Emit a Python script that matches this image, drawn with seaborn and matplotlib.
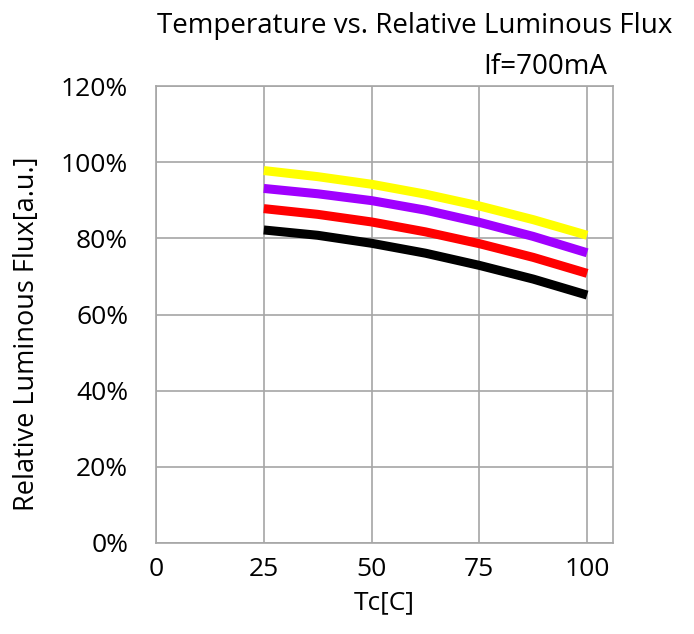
import matplotlib
matplotlib.use("Agg")
import matplotlib.pyplot as plt
import seaborn as sns
import pandas as pd

temps = [25, 37.5, 50, 62.5, 75, 87.5, 100]
yellow = [97.8, 96.2, 94.2, 91.6, 88.5, 84.9, 80.8]
purple = [93.1, 91.7, 89.9, 87.4, 84.2, 80.5, 76.2]
red = [87.8, 86.3, 84.3, 81.7, 78.6, 75.0, 70.8]
black = [82.2, 80.8, 78.7, 76.1, 72.9, 69.3, 65.1]
series_names = ["Yellow", "Purple", "Red", "Black"]
series_colors = ["#ffff00", "#a000ff", "#ff0000", "#000000"]
x_ticks = [0, 25, 50, 75, 100]
y_ticks = [0, 20, 40, 60, 80, 100, 120]

sns.set_theme(style="white")
plt.rcParams['font.family'] = ['Open Sans', 'DejaVu Sans']
plt.rcParams['text.color'] = 'black'
plt.rcParams['axes.labelcolor'] = 'black'

rows = []
for name, vals in zip(series_names, [yellow, purple, red, black]):
    for t, v in zip(temps, vals):
        rows.append({"Tc": t, "Flux": v, "series": name})
df = pd.DataFrame(rows)

fig = plt.figure(figsize=(6.94, 6.34), dpi=100)
ax = fig.add_axes([156/694, 1 - 543/634, (613-156)/694, (543-86)/634])

for name, color in zip(series_names, series_colors):
    sub = df[df.series == name]
    sns.lineplot(data=sub, x="Tc", y="Flux", ax=ax, color=color, linewidth=6.5,
                 solid_capstyle="butt", solid_joinstyle="round", legend=False)

ax.set_xlim(0, 106)
ax.set_ylim(0, 120)
ax.set_xticks(x_ticks)
ax.set_yticks(y_ticks)
ax.set_yticklabels([f"{v}%" for v in y_ticks])
ax.grid(True, color="#a6a6a6", linewidth=1.2)
ax.set_axisbelow(True)
for sp in ax.spines.values():
    sp.set_color("#a6a6a6")
    sp.set_linewidth(1.2)
ax.tick_params(axis="both", labelsize=19, colors="#000000", length=0)
ax.tick_params(axis="x", pad=10)
ax.tick_params(axis="y", pad=20)
ax.set_xlabel("Tc[C]", fontsize=19, labelpad=6)
ax.set_ylabel("Relative Luminous Flux[a.u.]", fontsize=19.5, va="center")
ax.yaxis.set_label_coords((27 - 156) / 457, (543 - 334) / 457)

fig.text(672/694, 1 - 26/634, "Temperature vs. Relative Luminous Flux", ha="right", va="center", fontsize=20)
fig.text(607/694, 1 - 67/634, "If=700mA", ha="right", va="center", fontsize=20)

fig.savefig("out.png", dpi=100, facecolor="white")
